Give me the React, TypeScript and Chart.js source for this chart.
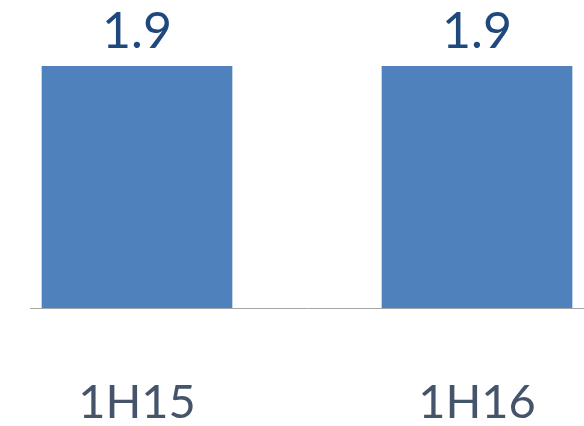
import React, { useEffect, useRef } from "react";
import { Chart, registerables } from "chart.js";

Chart.register(...registerables);

const categories = ["1H15", "1H16"];
const values = [1.9, 1.9];
const valueLabels = ["1.9", "1.9"];

const valueLabelPlugin = {
  id: "valueLabels",
  afterDatasetsDraw(chart: any) {
    const ctx = chart.ctx;
    const meta = chart.getDatasetMeta(0);
    ctx.save();
    ctx.font = "50px Lato, 'Open Sans', sans-serif";
    ctx.fillStyle = "#1F497D";
    ctx.textAlign = "center";
    ctx.textBaseline = "alphabetic";
    meta.data.forEach((bar: any, i: number) => {
      ctx.fillText(valueLabels[i], bar.x, bar.y - 18);
    });
    ctx.restore();
  },
};

export default function App() {
  const ref = useRef<HTMLCanvasElement>(null);
  useEffect(() => {
    const chart = new Chart(ref.current!, {
      type: "bar",
      data: {
        datasets: [
          {
            data: values.map((v, i) => ({ x: i, y: v })),
            backgroundColor: "#4F81BD",
            borderWidth: 0,
            barThickness: 190,
          },
        ],
      },
      plugins: [valueLabelPlugin],
      options: {
        animation: false,
        responsive: false,
        maintainAspectRatio: false,
        layout: { padding: { top: 66, left: 30, right: 0, bottom: 0 } },
        plugins: { legend: { display: false }, tooltip: { enabled: false } },
        scales: {
          x: {
            type: "linear",
            offset: false,
            bounds: "data",
            min: -107 / 340,
            max: 1 + 107 / 340,
            afterBuildTicks: (scale: any) => {
              scale.ticks = categories.map((_, i) => ({ value: i }));
            },
            afterFit: (scale: any) => {
              scale.height = 118;
              scale.paddingLeft = 0;
              scale.paddingRight = 0;
            },
            grid: { display: false, drawTicks: false, offset: false },
            border: { display: true, color: "#A6A6A6", width: 1 },
            ticks: {
              padding: 67,
              color: "#44546A",
              font: { family: "Lato, 'Open Sans', sans-serif", size: 47 },
              maxRotation: 0,
              autoSkip: false,
              callback: (v: any) => categories[v] ?? "",
            },
          },
          y: {
            display: false,
            min: 0,
            max: 1.9,
          },
        },
      },
    });
    return () => chart.destroy();
  }, []);
  return (
    <div style={{ position: "fixed", left: 0, top: 0, width: 584, height: 426, background: "#fff" }}>
      <canvas ref={ref} width={584} height={426} style={{ display: "block" }} />
    </div>
  );
}
